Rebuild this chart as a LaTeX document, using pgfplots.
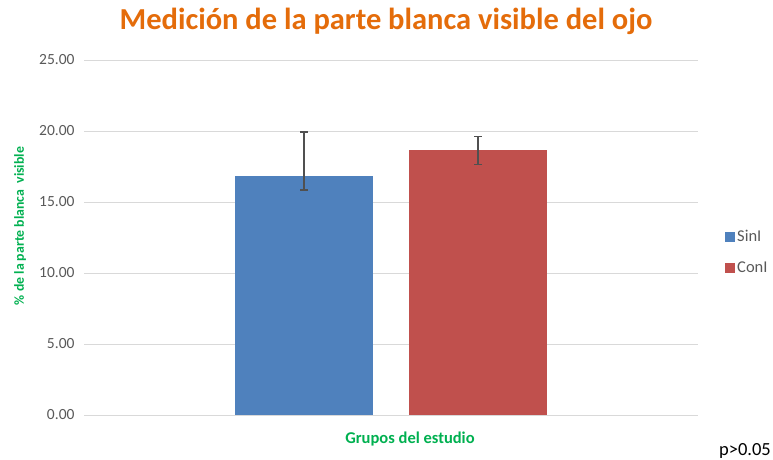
\documentclass[border=0pt]{standalone}
\usepackage{fontspec}
\setmainfont{Carlito}
\usepackage{pgfplots}
\pgfplotsset{compat=1.18}
\definecolor{barblue}{HTML}{4F81BD}
\definecolor{barred}{HTML}{C0504D}
\definecolor{ttlorange}{HTML}{E46C0A}
\definecolor{lblgreen}{HTML}{00B050}
\definecolor{tickgray}{HTML}{595959}
\definecolor{gridgray}{HTML}{D9D9D9}
\definecolor{errgray}{HTML}{505050}
\begin{document}
\begin{tikzpicture}[x=1bp,y=1bp]
\path[use as bounding box] (0,0) rectangle (773,460);
\begin{axis}[
  at={(84bp,45bp)}, anchor=south west,
  scale only axis, width=614bp, height=355bp,
  xmin=-0.5, xmax=0.5, ymin=0, ymax=25,
  ytick={0,5,...,25},
  xtick=\empty,
  yticklabel style={font=\fontsize{15.5bp}{18bp}\selectfont, text=tickgray},
  /pgf/number format/.cd, fixed, fixed zerofill, precision=2, assume math mode=true,
  /pgfplots/.cd,
  ymajorgrids, grid style={gridgray, line width=0.8bp},
  axis line style={draw=none},
  major tick length=0pt,
  yticklabel shift=6bp,
  ybar, bar shift=0pt, bar width=0.224,
  clip=false,
  legend style={at={(1.044,0.527)}, anchor=north west, draw=none, fill=none,
    font=\fontsize{16.5bp}{19bp}\selectfont, text=tickgray, row sep=15bp,
    inner sep=0pt},
  legend cell align=left,
  legend image code/.code={\fill[#1] (0bp,-5bp) rectangle (10bp,5bp);},
]
\addplot[fill=barblue, draw=none,
  error bars/.cd, y dir=both, y explicit,
  error bar style={errgray, line width=1.2bp},
  error mark options={rotate=90, mark size=4bp, errgray, line width=1.2bp}]
  coordinates {(-0.1417,16.83) += (0,3.10) -= (0,0.98)};
\addlegendentry{SinI}
\addplot[fill=barred, draw=none,
  error bars/.cd, y dir=both, y explicit,
  error bar style={errgray, line width=1.2bp},
  error mark options={rotate=90, mark size=4bp, errgray, line width=1.2bp}]
  coordinates {(0.1417,18.64) += (0,0.98) -= (0,1.0)};
\addlegendentry{ConI}
\end{axis}
\node[anchor=base, font=\fontsize{30.5bp}{34bp}\selectfont\bfseries, text=ttlorange] at (386,430) {Medición de la parte blanca visible del ojo};
\node[anchor=base, font=\fontsize{16.5bp}{19bp}\selectfont\bfseries, text=lblgreen] at (410,16) {Grupos del estudio};
\node[rotate=90, font=\fontsize{13.8bp}{16bp}\selectfont\bfseries, text=lblgreen] at (20,234) {\% de la parte blanca\ \ visible};
\node[anchor=base east, font=\fontsize{18.5bp}{21bp}\selectfont, text=black, inner sep=0pt] at (771,4) {p>0.05};
\end{tikzpicture}
\end{document}
